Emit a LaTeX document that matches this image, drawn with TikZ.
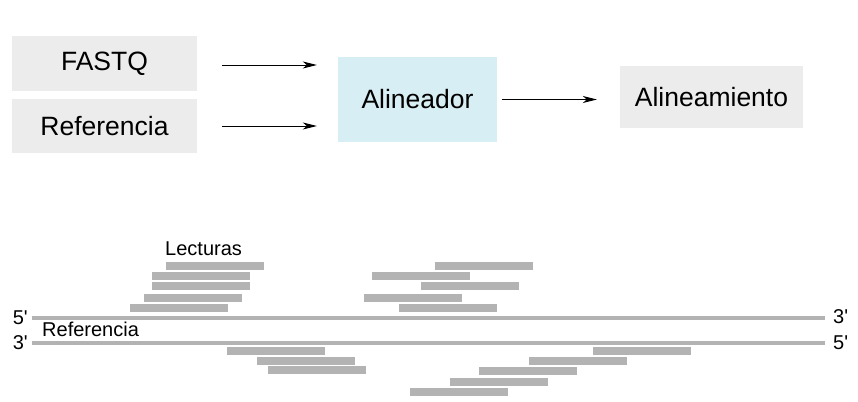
\documentclass[tikz,border=0pt]{standalone}
\usepackage{fontspec}
\setmainfont{Liberation Sans}
\usetikzlibrary{arrows.meta}
\definecolor{cajagris}{HTML}{ECECEC}
\definecolor{cajaazul}{HTML}{D7EEF4}
\definecolor{lecturagris}{HTML}{B3B3B3}
\tikzset{
	caja/.style={fill=cajagris, inner sep=0pt, font=\fontsize{26.5}{30}\selectfont},
	flecha/.style={line width=0.9pt, -{Stealth[length=14pt,width=7pt,inset=4pt]}},
	hebra/.style={line width=4pt, lecturagris},
	lectura/.style={fill=lecturagris},
	etiq/.style={inner sep=0pt, font=\fontsize{20}{24}\selectfont}
}
\begin{document}
\begin{tikzpicture}[x=1pt, y=-1pt]
		\useasboundingbox (0,0) rectangle (858,401);
		% flujo
		\node[caja, minimum width=185pt, minimum height=55pt] (fastq) at (104.5,63.5) {FASTQ};
		\node[caja, minimum width=185pt, minimum height=54pt] (ref) at (104.5,126) {Referencia};
		\node[caja, fill=cajaazul, minimum width=159pt, minimum height=85pt] (alin) at (417.5,99.5) {Alineador};
		\node[caja, minimum width=183pt, minimum height=62pt] (alig) at (711.5,97) {Alineamiento};
		\draw[flecha, shorten <=25pt, shorten >=21pt] ([yshift=-1.5pt]fastq.east) -- ([yshift=-1.5pt]fastq.east -| alin.west);
		\draw[flecha, shorten <=25pt, shorten >=21pt] (ref.east) -- (ref.east -| alin.west);
		\draw[flecha, shorten <=5pt, shorten >=23pt] (alin.east) -- (alin.east -| alig.west);
		% hebras
		\coordinate (a5) at (32,317.7);
		\coordinate (a3) at (825,317.7);
		\coordinate (b3) at (32,343);
		\coordinate (b5) at (825,343);
		\draw[hebra] (a5) -- (a3);
		\draw[hebra] (b3) -- (b5);
		\node[etiq, anchor=base east] (l5) at (28,324) {5\textquotesingle};
		\node[etiq, anchor=base east] (l3) at (28,349) {3\textquotesingle};
		\node[etiq, anchor=base west] (r3) at (833,323) {3\textquotesingle};
		\node[etiq, anchor=base west] (r5) at (833,349) {5\textquotesingle};
		\node[etiq, anchor=base west] (lect) at (165,255.3) {Lecturas};
		\node[etiq, anchor=base west] (refh) at (42,336) {Referencia};
		% lecturas
		\foreach \x/\y in {166/262.3, 152/272.3, 152/282.3, 144/293.7, 130/303.7,
				435/262.3, 372/272.3, 421/282.3, 364/293.7, 399/303.7,
				227/346.7, 257/356.7, 268/366.3,
				593/347.3, 529/357.3, 479/367.3, 450/378, 410/388}
			\fill[lectura] (\x,\y) rectangle ++(98,8);
\end{tikzpicture}
\end{document}
